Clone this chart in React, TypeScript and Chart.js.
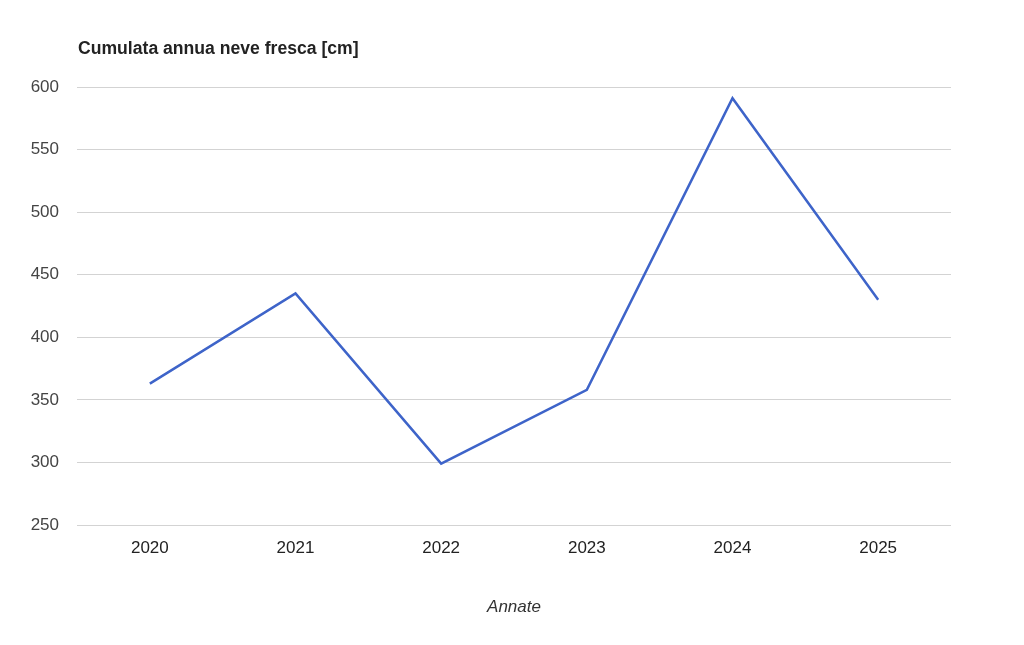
import React, { useEffect, useRef } from "react";
import { Chart, registerables } from "chart.js";

Chart.register(...registerables);

const years = ["2020", "2021", "2022", "2023", "2024", "2025"];
const snowCm = [363, 435, 299, 358, 591, 430];
const yMin = 250;
const yMax = 600;
const yStep = 50;
const chartTitle = "Cumulata annua neve fresca [cm]";
const xTitle = "Annate";

const FONT = "'Liberation Sans', Arial, Helvetica, sans-serif";

const titlePlugin = {
  id: "leftTitle",
  afterDraw(chart: any) {
    const ctx = chart.ctx;
    ctx.save();
    ctx.font = `bold 17.6px ${FONT}`;
    ctx.fillStyle = "#222222";
    ctx.textAlign = "left";
    ctx.textBaseline = "middle";
    ctx.fillText(chartTitle, chart.chartArea.left + 1, 49);
    ctx.restore();
  },
};

export default function App() {
  const ref = useRef<HTMLCanvasElement | null>(null);
  useEffect(() => {
    if (!ref.current) return;
    const chart = new Chart(ref.current, {
      type: "line",
      data: {
        labels: years,
        datasets: [
          {
            data: snowCm,
            borderColor: "#3e64c9",
            borderWidth: 2.5,
            pointRadius: 0,
            tension: 0,
            fill: false,
          },
        ],
      },
      options: {
        animation: false,
        responsive: false,
        maintainAspectRatio: false,
        layout: { padding: { left: 0, right: 73, top: 87, bottom: 0 } },
        plugins: {
          legend: { display: false },
          title: { display: false },
          tooltip: { enabled: false },
        },
        scales: {
          x: {
            offset: true,
            grid: { display: false },
            border: { display: false },
            ticks: {
              padding: 5,
              color: "#222222",
              font: { family: FONT, size: 17 },
            },
            title: {
              display: true,
              text: xTitle,
              color: "#333333",
              font: { family: FONT, size: 17, style: "italic" },
              padding: { top: 0, bottom: 28 },
            },
            afterFit(scale: any) {
              scale.height = 120;
            },
          },
          y: {
            min: yMin,
            max: yMax,
            grid: { color: "#d3d3d3", lineWidth: 1, drawTicks: false },
            border: { display: false },
            ticks: {
              stepSize: yStep,
              padding: 18,
              color: "#444444",
              font: { family: FONT, size: 17 },
            },
            afterFit(scale: any) {
              scale.width = 77;
            },
          },
        },
      },
      plugins: [titlePlugin],
    });
    return () => chart.destroy();
  }, []);
  return (
    <div style={{ position: "fixed", left: 0, top: 0, width: 1024, height: 645, background: "#ffffff" }}>
      <canvas ref={ref} width={1024} height={645} style={{ display: "block" }} />
    </div>
  );
}
